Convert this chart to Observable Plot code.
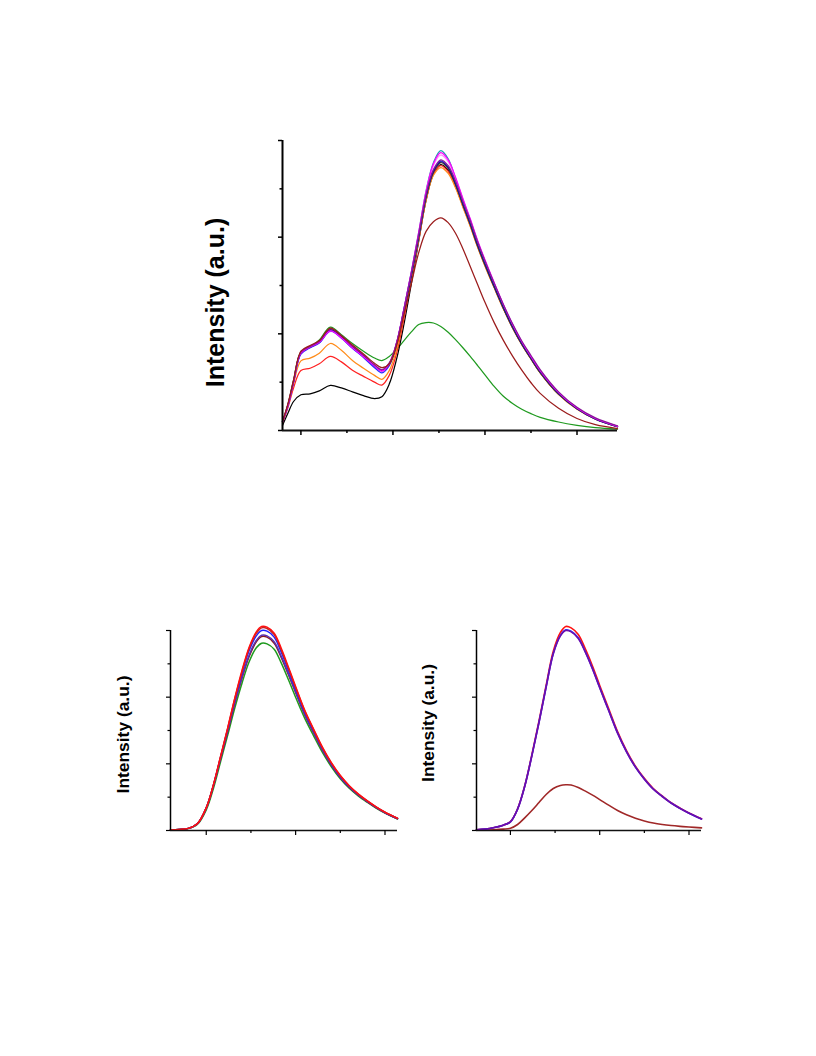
<!DOCTYPE html>
<html><head><meta charset="utf-8">
<script src="https://cdn.jsdelivr.net/npm/d3@7"></script>
<script src="https://cdn.jsdelivr.net/npm/@observablehq/plot@0.6"></script>
<style>
html,body{margin:0;padding:0;background:#fff;}
#page{position:relative;width:816px;height:1056px;overflow:hidden;background:#fff;}
.panel{position:absolute;}
.panel svg{display:block;}
</style></head>
<body><div id="page">
<div id="top" class="panel" style="left:0;top:0"></div>
<div id="bl" class="panel" style="left:0;top:600px"></div>
<div id="br" class="panel" style="left:408px;top:600px"></div>
</div>
<script>
// ---------- data ----------
const yLabel = "Intensity (a.u.)";
const yMajor = [0, 0.5, 1.0, 1.5];
const yMinor = [0.25, 0.75, 1.25];

// top panel
const gridTop = [390,393,396,400,405,410,416,422,428,434,440,444,448,452,456,460,464,468,472,476,480,484,488,492,496,500,505,510,515,520,525,530,540,550,560,572];
const xMajorTop = [400, 450, 500, 550];
const xMinorTop = [425, 475, 525];
const topGreen   = [0.045,0.135,0.26,0.405,0.43,0.468,0.535,0.495,0.45,0.41,0.375,0.362,0.383,0.42,0.465,0.51,0.548,0.558,0.556,0.538,0.508,0.47,0.428,0.383,0.336,0.288,0.228,0.177,0.14,0.11,0.087,0.068,0.044,0.027,0.015,0.007];
const topDarkRed = [0.045,0.14,0.26,0.41,0.44,0.465,0.53,0.49,0.442,0.396,0.348,0.325,0.345,0.44,0.60,0.76,0.92,1.03,1.08,1.10,1.075,1.02,0.94,0.848,0.755,0.663,0.558,0.466,0.385,0.312,0.247,0.192,0.115,0.062,0.03,0.01];
const topBlack   = [0.026,0.09,0.15,0.185,0.19,0.205,0.233,0.22,0.2,0.18,0.165,0.175,0.24,0.37,0.55,0.76,0.98,1.19,1.325,1.375,1.345,1.265,1.165,1.062,0.953,0.855,0.742,0.632,0.532,0.446,0.371,0.30,0.188,0.112,0.06,0.02];
const topRed     = [0.04,0.12,0.22,0.31,0.322,0.345,0.383,0.355,0.312,0.28,0.25,0.235,0.285,0.40,0.58,0.78,0.985,1.195,1.33,1.37,1.34,1.262,1.16,1.06,0.952,0.855,0.742,0.632,0.532,0.446,0.372,0.3,0.188,0.112,0.06,0.02];
const topOrange  = [0.045,0.13,0.24,0.36,0.374,0.40,0.45,0.415,0.362,0.322,0.285,0.265,0.31,0.42,0.60,0.79,0.99,1.19,1.32,1.36,1.33,1.255,1.155,1.055,0.948,0.85,0.738,0.628,0.53,0.444,0.369,0.298,0.186,0.11,0.058,0.02];
const topOlive   = [0.045,0.135,0.255,0.405,0.435,0.46,0.526,0.488,0.435,0.388,0.338,0.312,0.342,0.445,0.615,0.80,1.0,1.205,1.335,1.385,1.355,1.272,1.168,1.066,0.955,0.857,0.743,0.633,0.533,0.446,0.371,0.3,0.188,0.112,0.06,0.02];
const topNavy    = [0.045,0.13,0.25,0.40,0.432,0.458,0.522,0.485,0.432,0.385,0.335,0.31,0.345,0.45,0.62,0.80,1.00,1.21,1.34,1.39,1.36,1.275,1.17,1.068,0.958,0.86,0.745,0.635,0.535,0.448,0.373,0.302,0.19,0.113,0.06,0.02];
const topBlue    = [0.045,0.13,0.25,0.395,0.428,0.452,0.515,0.478,0.425,0.378,0.325,0.298,0.335,0.45,0.625,0.81,1.01,1.215,1.345,1.395,1.362,1.278,1.172,1.07,0.96,0.862,0.747,0.637,0.537,0.45,0.375,0.304,0.192,0.114,0.06,0.02];
const topPurple  = [0.045,0.135,0.255,0.405,0.435,0.462,0.525,0.49,0.437,0.39,0.34,0.315,0.35,0.455,0.63,0.815,1.015,1.22,1.35,1.40,1.37,1.29,1.185,1.085,0.975,0.877,0.762,0.652,0.552,0.463,0.388,0.315,0.2,0.12,0.065,0.024];
const topPink    = [0.045,0.13,0.25,0.398,0.43,0.455,0.512,0.476,0.425,0.38,0.332,0.305,0.34,0.45,0.625,0.815,1.02,1.23,1.37,1.425,1.39,1.3,1.19,1.085,0.973,0.873,0.755,0.643,0.541,0.453,0.378,0.306,0.193,0.114,0.06,0.02];
const topMagenta = [0.045,0.13,0.25,0.40,0.432,0.457,0.515,0.48,0.428,0.382,0.335,0.308,0.345,0.455,0.63,0.82,1.025,1.235,1.38,1.437,1.40,1.31,1.2,1.095,0.983,0.883,0.765,0.652,0.549,0.459,0.382,0.31,0.196,0.116,0.062,0.021];
const topCyan    = [0.045,0.13,0.25,0.40,0.43,0.455,0.518,0.48,0.428,0.382,0.333,0.306,0.342,0.452,0.628,0.82,1.025,1.24,1.385,1.447,1.405,1.305,1.195,1.09,0.978,0.877,0.76,0.647,0.544,0.455,0.378,0.306,0.193,0.114,0.06,0.02];

// bottom-left panel
const gridBL = [480,485,490,495,500,504,508,512,516,520,524,528,531,534,538,542,546,550,555,560,565,570,575,580,585,590,595,600,607];
const xMajorB = [500, 550, 600];
const xMinorB = [525, 575];
const blGreen   = [0.003,0.007,0.014,0.045,0.155,0.315,0.515,0.715,0.92,1.105,1.265,1.37,1.405,1.40,1.36,1.255,1.13,1.0,0.845,0.712,0.585,0.478,0.388,0.317,0.26,0.212,0.168,0.13,0.086];
const blDarkRed = [0.003,0.008,0.016,0.05,0.168,0.335,0.54,0.742,0.955,1.143,1.305,1.415,1.455,1.45,1.405,1.297,1.168,1.035,0.87,0.735,0.602,0.49,0.398,0.325,0.266,0.217,0.172,0.133,0.088];
const blPurple  = [0.003,0.008,0.016,0.05,0.168,0.336,0.542,0.745,0.96,1.15,1.315,1.425,1.465,1.46,1.415,1.305,1.175,1.04,0.875,0.738,0.605,0.493,0.4,0.326,0.267,0.218,0.173,0.134,0.089];
const blBlue    = [0.003,0.008,0.016,0.05,0.17,0.34,0.55,0.76,0.98,1.18,1.35,1.46,1.50,1.495,1.45,1.335,1.20,1.06,0.89,0.75,0.615,0.50,0.405,0.33,0.27,0.22,0.175,0.135,0.09];
const blBrown   = [0.003,0.008,0.016,0.05,0.17,0.34,0.552,0.765,0.99,1.19,1.365,1.478,1.52,1.515,1.47,1.352,1.215,1.072,0.9,0.757,0.62,0.505,0.41,0.334,0.273,0.222,0.177,0.137,0.091];
const blRed     = [0.003,0.008,0.016,0.05,0.17,0.342,0.555,0.77,0.995,1.2,1.375,1.49,1.53,1.525,1.48,1.365,1.225,1.08,0.905,0.762,0.625,0.508,0.412,0.336,0.275,0.224,0.178,0.138,0.092];

// bottom-right panel
const gridBR = [481,486,491,496,500,504,508,512,516,520,524,528,531,534,538,542,546,550,555,560,565,570,575,580,585,590,595,600,607];
const brDarkRed = [0.002,0.003,0.005,0.01,0.017,0.045,0.095,0.15,0.21,0.27,0.315,0.338,0.343,0.341,0.322,0.295,0.265,0.232,0.19,0.15,0.118,0.092,0.072,0.056,0.045,0.037,0.031,0.026,0.02];
const brRed     = [0.005,0.01,0.022,0.04,0.066,0.162,0.335,0.568,0.822,1.09,1.345,1.485,1.53,1.52,1.47,1.36,1.232,1.088,0.915,0.742,0.6,0.483,0.391,0.315,0.259,0.208,0.168,0.132,0.088];
const brBlue    = [0.005,0.01,0.022,0.04,0.065,0.16,0.332,0.562,0.812,1.078,1.328,1.463,1.505,1.495,1.445,1.34,1.213,1.072,0.902,0.732,0.592,0.476,0.386,0.311,0.256,0.206,0.166,0.13,0.087];
const brPurple  = [0.005,0.01,0.022,0.04,0.065,0.16,0.33,0.56,0.81,1.075,1.325,1.46,1.50,1.49,1.44,1.335,1.21,1.07,0.9,0.73,0.59,0.475,0.385,0.31,0.255,0.205,0.165,0.13,0.087];

// ---------- drawing ----------
const FONT = "Arial, 'Liberation Sans', Helvetica, sans-serif";

function makePanel(cfg) {
  const marks = [];
  for (const s of cfg.series) {
    const rows = s.values.map((v, i) => ({w: cfg.grid[i], v}));
    marks.push(Plot.line(rows, {x: "w", y: "v", stroke: s.color, strokeWidth: cfg.lineWidth, curve: "catmull-rom"}));
  }
  marks.push(Plot.ruleX([cfg.xDomain[0]], {stroke: "#000", strokeWidth: cfg.axisWidth}));
  marks.push(Plot.ruleY([0], {stroke: "#111", strokeWidth: cfg.axisWidth}));
  marks.push(Plot.axisY({ticks: yMajor, tickSize: 4, tickFormat: () => "", label: null, strokeWidth: cfg.tickWidth}));
  marks.push(Plot.axisY({ticks: yMinor, tickSize: 2.5, tickFormat: () => "", label: null, strokeWidth: cfg.tickWidth}));
  marks.push(Plot.axisX({ticks: cfg.xMajor, tickSize: 5, tickFormat: () => "", label: null, strokeWidth: cfg.tickWidth}));
  marks.push(Plot.axisX({ticks: cfg.xMinor, tickSize: 3, tickFormat: () => "", label: null, strokeWidth: cfg.tickWidth}));
  marks.push(Plot.text([yLabel], {text: d => d, frameAnchor: "left", textAnchor: "middle", lineAnchor: "middle",
    rotate: -90, dx: cfg.titleDx, dy: cfg.titleDy,
    fontSize: cfg.titleSize, fontWeight: "bold", fontFamily: FONT, fill: "#000"}));
  return Plot.plot({
    width: cfg.width, height: cfg.height,
    marginTop: cfg.m[0], marginRight: cfg.m[1], marginBottom: cfg.m[2], marginLeft: cfg.m[3],
    x: {domain: cfg.xDomain},
    y: {domain: [0, 1.5]},
    style: {fontFamily: FONT, background: "transparent"},
    marks
  });
}

document.getElementById("top").append(makePanel({
  grid: gridTop, xDomain: [390, 572], xMajor: xMajorTop, xMinor: xMinorTop,
  width: 816, height: 460, m: [140, 199, 30, 282],
  lineWidth: 1.25, axisWidth: 2, tickWidth: 1.5,
  titleSize: 25, titleDx: -67, titleDy: 17,
  series: [
    {values: topGreen, color: "#1f9a1f"},
    {values: topBlack, color: "#000000"},
    {values: topRed, color: "#ff2222"},
    {values: topOrange, color: "#ff8c1a"},
    {values: topCyan, color: "#20a0b0"},
    {values: topPink, color: "#ff88ff"},
    {values: topBlue, color: "#2a2aff"},
    {values: topOlive, color: "#4a4a2a"},
    {values: topNavy, color: "#1a1a80"},
    {values: topMagenta, color: "#ff00ff"},
    {values: topPurple, color: "#8a1a9a"},
    {values: topDarkRed, color: "#9b1c1c"}
  ]
}));

document.getElementById("bl").append(makePanel({
  grid: gridBL, xDomain: [480, 607], xMajor: xMajorB, xMinor: xMinorB,
  width: 408, height: 260, m: [30, 11, 30, 170],
  lineWidth: 1.5, axisWidth: 1.5, tickWidth: 1.2,
  titleSize: 17.4, titleDx: -47, titleDy: 4,
  series: [
    {values: blGreen, color: "#1f9a1f"},
    {values: blDarkRed, color: "#8b1a1a"},
    {values: blPurple, color: "#5a30b0"},
    {values: blBlue, color: "#2020ff"},
    {values: blBrown, color: "#c02828"},
    {values: blRed, color: "#ff1010"}
  ]
}));

document.getElementById("br").append(makePanel({
  grid: gridBR, xDomain: [481, 607], xMajor: xMajorB, xMinor: xMinorB,
  width: 408, height: 260, m: [30, 115, 30, 68],
  lineWidth: 1.6, axisWidth: 1.5, tickWidth: 1.2,
  titleSize: 17.4, titleDx: -48.5, titleDy: -7.5,
  series: [
    {values: brDarkRed, color: "#a02828"},
    {values: brRed, color: "#ff1010"},
    {values: brBlue, color: "#3030ff"},
    {values: brPurple, color: "#6a0dad"}
  ]
}));
</script></body></html>
